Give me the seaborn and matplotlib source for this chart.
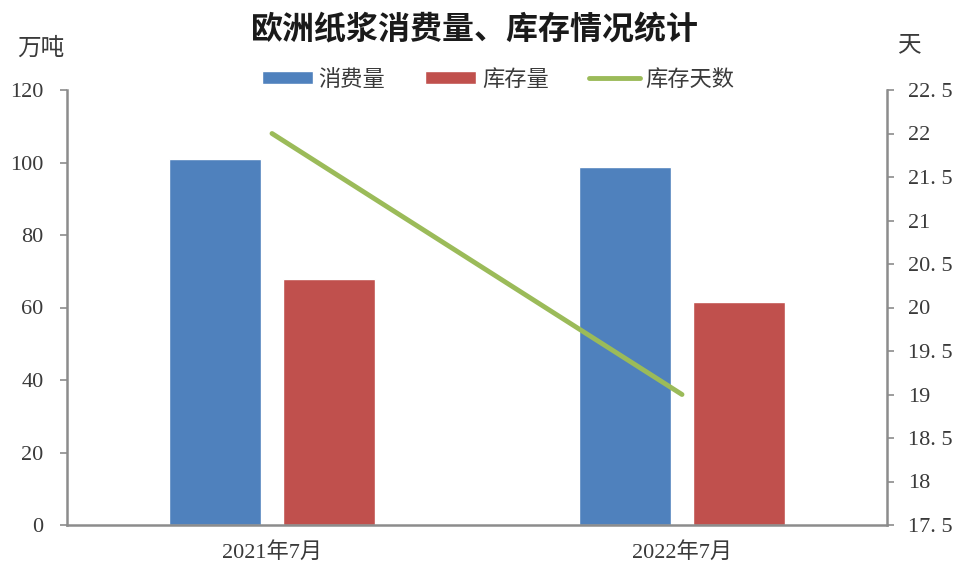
import matplotlib
matplotlib.use("Agg")
import matplotlib.pyplot as plt
import seaborn as sns
import numpy as np
import pandas as pd

categories = ["2021年7月", "2022年7月"]
consumption = [101, 98.8]
inventory = [68, 61.5]
inventory_days = [22, 19]
series_names = ["消费量", "库存量", "库存天数"]
left_ticks = [0, 20, 40, 60, 80, 100, 120]
right_ticks = [17.5, 18, 18.5, 19, 19.5, 20, 20.5, 21, 21.5, 22, 22.5]

sns.set_theme(style="white")
CJK = ["Noto Sans CJK SC", "DejaVu Sans"]
NUM = ["Liberation Serif", "DejaVu Serif"]
plt.rcParams["font.family"] = CJK

blue, red, green = "#4F81BD", "#C0504D", "#9BBB59"
axis_gray = "#8C8C8C"
text_col = "#3a3a3a"

df = pd.DataFrame({
    "cat": categories * 2,
    "val": consumption + inventory,
    "series": [series_names[0]] * 2 + [series_names[1]] * 2,
})

fig = plt.figure(figsize=(9.62, 5.67), dpi=100)
ax = fig.add_axes([67 / 962, 1 - 525 / 567, (887 - 67) / 962, (525 - 90) / 567])

sns.barplot(data=df, x="cat", y="val", hue="series", order=categories,
            hue_order=series_names[:2], palette=[blue, red], width=0.56, gap=0.2,
            saturation=1, ax=ax, legend=False)
ax.set_xlim(-0.5, 1.5)
ax.set_ylim(0, 120)
ax.set_yticks(left_ticks)
ax.set_yticklabels([str(t) for t in left_ticks], family=NUM, fontsize=16, color=text_col)
ax.set_xticks(range(len(categories)))
ax.set_xticklabels(categories, fontsize=16, color=text_col, family=NUM + CJK)
ax.set_xlabel("")
ax.set_ylabel("")

ax2 = ax.twinx()
sns.lineplot(x=np.arange(len(categories)), y=inventory_days, color=green, linewidth=3.5,
             ax=ax2, legend=False)
ax2.set_ylim(17.5, 22.5)
ax2.set_yticks(right_ticks)
ax2.set_yticklabels([("%g" % t).replace(".", ". ") for t in right_ticks], family=NUM,
                    fontsize=16, color=text_col)
ax2.set_xlim(-0.5, 1.5)

for a in (ax, ax2):
    for s in a.spines.values():
        s.set_visible(False)
    a.tick_params(axis="y", length=5, width=1.2, color=axis_gray, pad=12)
    a.tick_params(axis="x", length=0, pad=12)
ax2.tick_params(axis="y", pad=10)
ax.spines["left"].set_visible(True)
ax.spines["bottom"].set_visible(True)
ax2.spines["right"].set_visible(True)
for s in (ax.spines["left"], ax.spines["bottom"], ax2.spines["right"]):
    s.set_color(axis_gray)
    s.set_linewidth(1.8)
ax.tick_params(axis="y", left=True)
ax2.tick_params(axis="y", right=True)

fig.text(475 / 962, 1 - 30 / 567, "欧洲纸浆消费量、库存情况统计", ha="center", va="center",
         fontsize=23, fontweight="bold", color="#1a1a1a")
fig.text(41 / 962, 1 - 48 / 567, "万吨", ha="center", va="center", fontsize=17, color=text_col)
fig.text(910 / 962, 1 - 45 / 567, "天", ha="center", va="center", fontsize=17, color=text_col)

from matplotlib.patches import Patch
from matplotlib.lines import Line2D
handles = [Patch(facecolor=blue), Patch(facecolor=red), Line2D([0], [0], color=green, lw=3.5)]
fig.legend(handles, series_names, loc="center", bbox_to_anchor=(498 / 962, 1 - 79 / 567),
           ncol=3, frameon=False, fontsize=16, handlelength=2.3, handleheight=0.55,
           handletextpad=0.25, columnspacing=1.8, labelcolor=text_col)

fig.savefig("out.png", dpi=100)
